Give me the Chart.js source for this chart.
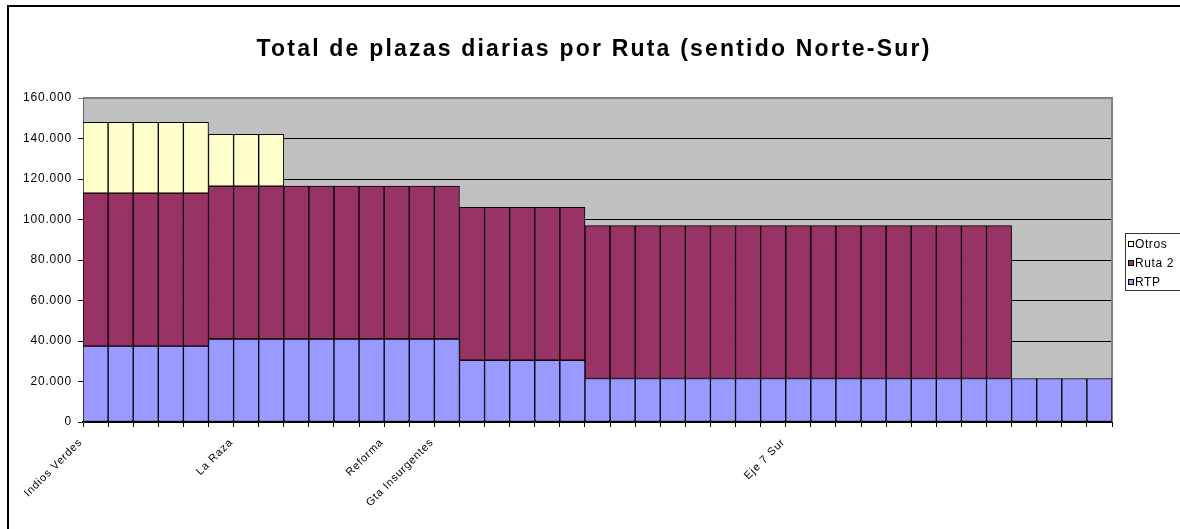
<!DOCTYPE html>
<html lang="es">
<head>
<meta charset="UTF-8">
<title>Total de plazas diarias por Ruta</title>
<style>
  html, body { margin: 0; padding: 0; background: #fff; overflow: hidden; }
  #wrap { width: 1180px; height: 529px; }
</style>
</head>
<body>
<div id="wrap"><canvas id="chart" width="1180" height="529"></canvas></div>
<script src="https://cdn.jsdelivr.net/npm/chart.js"></script>
<script>
// paradas, solo algunas llevan nombre
const paradas = [
  'Indios Verdes', '', '', '', '', '', 'La Raza', '', '', '',
  '', '', 'Reforma', '', 'Gta Insurgentes', '', '', '', '', '',
  '', '', '', '', '', '', '', '', 'Eje 7 Sur', '',
  '', '', '', '', '', '', '', '', '', '',
  ''
];

const rtp = [
  37500, 37500, 37500, 37500, 37500,
  41000, 41000, 41000, 41000, 41000, 41000, 41000, 41000, 41000, 41000,
  30500, 30500, 30500, 30500, 30500,
  21500, 21500, 21500, 21500, 21500, 21500, 21500, 21500, 21500, 21500,
  21500, 21500, 21500, 21500, 21500, 21500, 21500,
  21500, 21500, 21500, 21500
];

const ruta2 = [
  75500, 75500, 75500, 75500, 75500,
  75500, 75500, 75500, 75500, 75500, 75500, 75500, 75500, 75500, 75500,
  75500, 75500, 75500, 75500, 75500,
  75500, 75500, 75500, 75500, 75500, 75500, 75500, 75500, 75500, 75500,
  75500, 75500, 75500, 75500, 75500, 75500, 75500,
  null, null, null, null
];

const otros = [
  35000, 35000, 35000, 35000, 35000,
  25500, 25500, 25500, null, null, null, null, null, null, null,
  null, null, null, null, null,
  null, null, null, null, null, null, null, null, null, null,
  null, null, null, null, null, null, null,
  null, null, null, null
];

const titulo = 'Total de plazas diarias por Ruta (sentido Norte-Sur)';
const fuente = "Arial, 'Liberation Sans', sans-serif";

function miles(v) {
  return String(v).replace(/\B(?=(\d{3})+(?!\d))/g, '.');
}

const fondo = {
  id: 'fondo',
  beforeDraw(chart) {
    const ctx = chart.ctx, a = chart.chartArea;
    ctx.save();
    ctx.fillStyle = '#fff';
    ctx.fillRect(0, 0, chart.width, chart.height);
    // marco del grafico
    ctx.fillStyle = '#000';
    ctx.fillRect(7, 5, chart.width - 7, 2);
    ctx.fillRect(7, 5, 2, chart.height - 5);
    ctx.fillStyle = '#C0C0C0';
    ctx.fillRect(a.left, a.top, a.right - a.left, a.bottom - a.top);
    ctx.restore();
    // texto de los ejes un poco espaciado, como en Excel
    ctx.letterSpacing = '0.8px';
  },
  beforeDatasetsDraw(chart) {
    const ctx = chart.ctx, a = chart.chartArea;
    ctx.save();
    ctx.strokeStyle = '#808080';
    ctx.lineWidth = 2;
    ctx.beginPath();
    ctx.moveTo(a.left, a.top);
    ctx.lineTo(a.right, a.top);
    ctx.lineTo(a.right, a.bottom);
    ctx.stroke();
    ctx.restore();
  },
  afterDraw(chart) {
    const ctx = chart.ctx;
    ctx.save();
    // titulo
    ctx.letterSpacing = '2.2px';
    ctx.font = 'bold 23px ' + fuente;
    ctx.fillStyle = '#000';
    ctx.textAlign = 'center';
    ctx.textBaseline = 'middle';
    ctx.fillText(titulo, 594, 50);
    // leyenda
    const sets = chart.data.datasets.slice().reverse();
    ctx.letterSpacing = '0.6px';
    ctx.textAlign = 'left';
    ctx.fillStyle = '#fff';
    ctx.fillRect(1125, 233, 70, 57);
    ctx.strokeStyle = '#333';
    ctx.lineWidth = 1;
    ctx.strokeRect(1125.5, 233.5, 70, 57);
    ctx.font = '12px ' + fuente;
    sets.forEach((ds, i) => {
      const y = 244 + i * 19;
      ctx.fillStyle = ds.backgroundColor;
      ctx.fillRect(1128, y - 3, 6, 6);
      ctx.strokeStyle = '#000';
      ctx.strokeRect(1128.5, y - 2.5, 5, 5);
      ctx.fillStyle = '#000';
      ctx.fillText(ds.label, 1135, y + 1);
    });
    ctx.restore();
  }
};

new Chart(document.getElementById('chart'), {
  type: 'bar',
  data: {
    labels: paradas,
    datasets: [
      { label: 'RTP', data: rtp, backgroundColor: '#9999FF' },
      { label: 'Ruta 2', data: ruta2, backgroundColor: '#993366' },
      { label: 'Otros', data: otros, backgroundColor: '#FFFFCC' }
    ]
  },
  options: {
    responsive: false,
    animation: false,
    layout: { padding: { left: 14, right: 68, top: 98, bottom: 0 } },
    datasets: {
      bar: {
        borderColor: '#000',
        borderWidth: 1,
        borderSkipped: false,
        categoryPercentage: 1,
        barPercentage: 1
      }
    },
    plugins: {
      legend: { display: false },
      tooltip: { enabled: false },
      title: { display: false }
    },
    scales: {
      x: {
        stacked: true,
        grid: { drawOnChartArea: false, drawTicks: true, tickLength: 5, color: '#000', offset: true },
        border: { color: '#000', width: 2 },
        ticks: {
          autoSkip: false, minRotation: 45, maxRotation: 45,
          labelOffset: -15, padding: 9,
          color: '#000', font: { family: fuente, size: 11 }
        },
        afterFit(s) { s.height = 107; }
      },
      y: {
        stacked: true,
        min: 0, max: 160000,
        grid: {
          color: c => (c.tick && c.tick.value === 160000) ? '#808080' : '#000',
          tickLength: 5
        },
        border: { color: '#666', width: 1 },
        ticks: {
          stepSize: 20000, padding: 6, color: '#000',
          font: { family: fuente, size: 12 },
          callback: v => miles(v)
        },
        afterFit(s) { s.width = 69; }
      }
    }
  },
  plugins: [fondo]
});
</script>
</body>
</html>
